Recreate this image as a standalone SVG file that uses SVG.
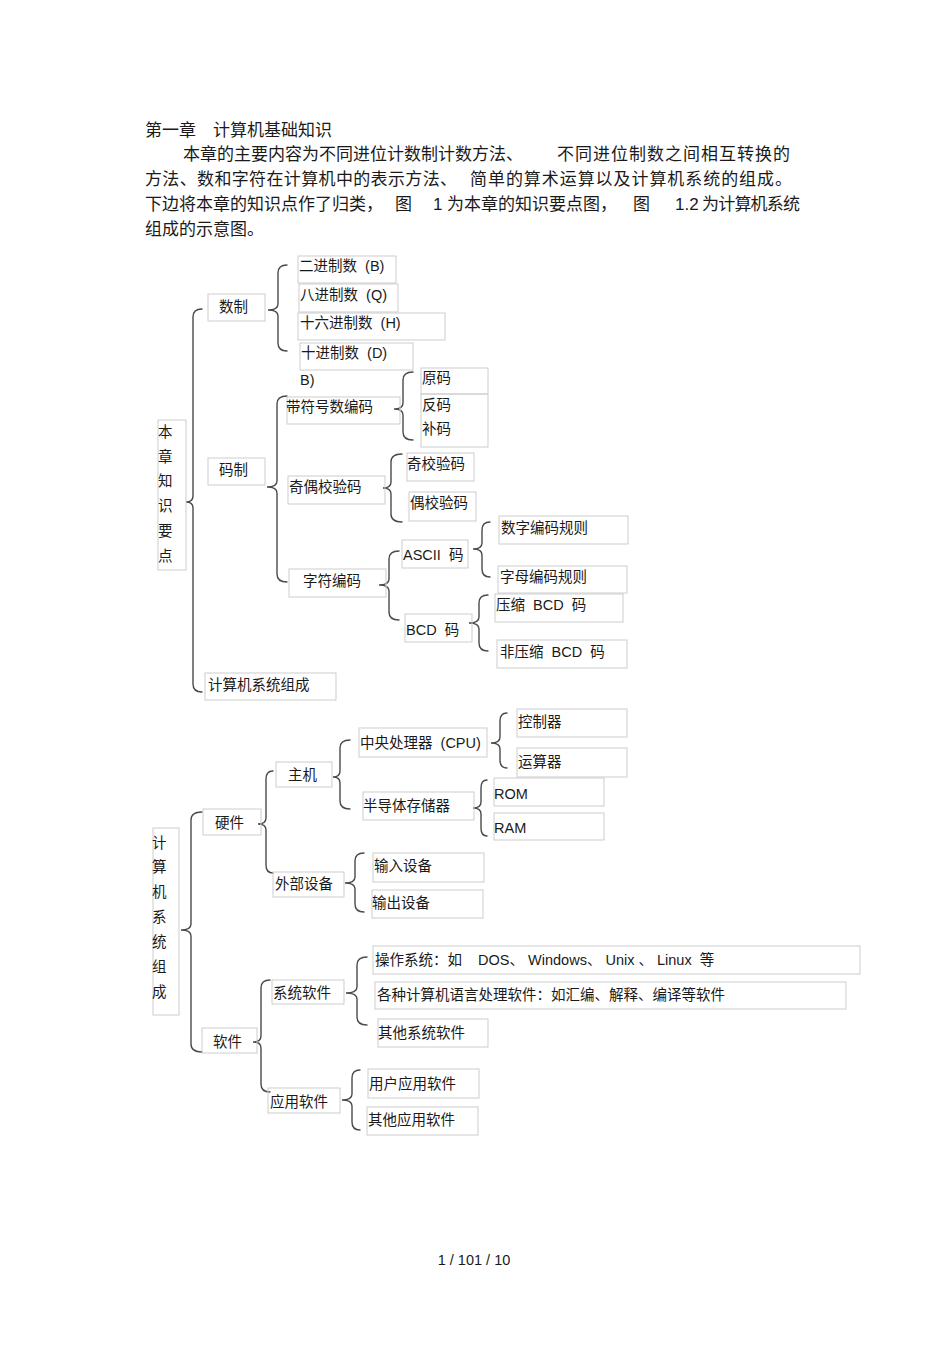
<svg xmlns="http://www.w3.org/2000/svg" width="950" height="1345" viewBox="0 0 950 1345" xml:space="preserve">
<style>
text{font-family:"Liberation Sans","Noto Sans CJK SC",sans-serif;fill:#1a1a1a;white-space:pre;dominant-baseline:central}
.p{font-size:17px}
.t{font-size:14.5px}
.b{fill:none;stroke:#cdcdcd;stroke-width:1}
.br{fill:none;stroke:#4a4a4a;stroke-width:1.4;stroke-linecap:round}
.pg{font-size:14.5px}
</style>
<rect width="950" height="1345" fill="#fff"/>
<g id="intro">
<text class="p" x="145" y="130">第一章</text>
<text class="p" x="213" y="130">计算机基础知识</text>
<text class="p" x="183" y="154" textLength="340" lengthAdjust="spacing">本章的主要内容为不同进位计数制计数方法、</text>
<text class="p" x="557" y="154" textLength="233" lengthAdjust="spacing">不同进位制数之间相互转换的</text>
<text class="p" x="145" y="179" textLength="312" lengthAdjust="spacing">方法、数和字符在计算机中的表示方法、</text>
<text class="p" x="470" y="179" textLength="322" lengthAdjust="spacing">简单的算术运算以及计算机系统的组成。</text>
<text class="p" x="145" y="204">下边将本章的知识点作了归类，</text>
<text class="p" x="395" y="204">图</text>
<text class="p" x="433" y="204">1</text>
<text class="p" x="447" y="204">为本章的知识要点图，</text>
<text class="p" x="633" y="204">图</text>
<text class="p" x="675" y="204">1.2</text>
<text class="p" x="702" y="204" textLength="98" lengthAdjust="spacing">为计算机系统</text>
<text class="p" x="145" y="229">组成的示意图。</text>
</g>
<g id="connectors">
<path class="br" d="M202,309 Q193,309 193,317 L193,496 Q193,502 186,502 Q193,502 193,508 L193,684 Q193,692 202,692"/>
<path class="br" d="M287,265 Q278,265 278,273 L278,304 Q278,310 268,310 Q278,310 278,316 L278,343 Q278,351 287,351"/>
<path class="br" d="M287,396 Q277,396 277,404 L277,481 Q277,487 267,487 Q277,487 277,493 L277,574 Q277,582 287,582"/>
<path class="br" d="M413,372 Q403,372 403,380 L403,403 Q403,409 394,409 Q403,409 403,415 L403,432 Q403,440 413,440"/>
<path class="br" d="M402,454 Q391,454 391,462 L391,482 Q391,488 383,488 Q391,488 391,494 L391,514 Q391,522 402,522"/>
<path class="br" d="M399,551 Q389,551 389,559 L389,579 Q389,585 379,585 Q389,585 389,591 L389,612 Q389,620 399,620"/>
<path class="br" d="M490,522 Q482,522 482,530 L482,543 Q482,549 473,549 Q482,549 482,555 L482,569 Q482,577 490,577"/>
<path class="br" d="M488,595 Q479,595 479,603 L479,617 Q479,623 469,623 Q479,623 479,629 L479,643 Q479,651 488,651"/>
<path class="br" d="M202,812 Q191,812 191,820 L191,924 Q191,930 181,930 Q191,930 191,936 L191,1044 Q191,1052 202,1052"/>
<path class="br" d="M273,771 Q266,771 266,779 L266,818 Q266,824 258,824 Q266,824 266,830 L266,865 Q266,873 273,873"/>
<path class="br" d="M350,740 Q340,740 340,748 L340,771 Q340,777 333,777 Q340,777 340,783 L340,801 Q340,809 350,809"/>
<path class="br" d="M507,713 Q500,713 500,721 L500,737 Q500,743 491,743 Q500,743 500,749 L500,760 Q500,768 507,768"/>
<path class="br" d="M487,780 Q481,780 481,788 L481,802 Q481,808 473,808 Q481,808 481,814 L481,828 Q481,836 487,836"/>
<path class="br" d="M364,853 Q355,853 355,861 L355,877 Q355,883 345,883 Q355,883 355,889 L355,904 Q355,912 364,912"/>
<path class="br" d="M270,980 Q261,980 261,988 L261,1036 Q261,1042 253,1042 Q261,1042 261,1048 L261,1084 Q261,1092 270,1092"/>
<path class="br" d="M367,957 Q357,957 357,965 L357,987 Q357,993 346,993 Q357,993 357,999 L357,1017 Q357,1025 367,1025"/>
<path class="br" d="M360,1070 Q352,1070 352,1078 L352,1094 Q352,1100 342,1100 Q352,1100 352,1106 L352,1122 Q352,1130 360,1130"/>
</g>
<g id="n-root1">
<rect class="b" x="158" y="420" width="28" height="150"/>
<text class="t" x="158" y="432">本</text>
<text class="t" x="158" y="457">章</text>
<text class="t" x="158" y="481">知</text>
<text class="t" x="158" y="506">识</text>
<text class="t" x="158" y="531">要</text>
<text class="t" x="158" y="556">点</text>
</g>
<g id="n-shuzhi"><rect class="b" x="208" y="294" width="57" height="27"/><text class="t" x="219" y="307">数制</text></g>
<g id="n-bin"><rect class="b" x="298" y="256" width="98" height="27"/><text class="t" x="299" y="266">二进制数  (B)</text></g>
<g id="n-oct"><rect class="b" x="299" y="284" width="99" height="28"/><text class="t" x="300" y="295">八进制数  (Q)</text></g>
<g id="n-hex"><rect class="b" x="298" y="313" width="147" height="27"/><text class="t" x="300" y="323">十六进制数  (H)</text></g>
<g id="n-dec"><rect class="b" x="300" y="343" width="113" height="27"/><text class="t" x="301" y="353">十进制数  (D)</text></g>
<g id="n-b"><text class="t" x="300" y="380">B)</text></g>
<g id="n-mazhi"><rect class="b" x="208" y="458" width="57" height="27"/><text class="t" x="219" y="470">码制</text></g>
<g id="n-signed"><rect class="b" x="287" y="397" width="113" height="27"/><text class="t" x="286" y="407">带符号数编码</text></g>
<g id="n-yuan"><rect class="b" x="421" y="368" width="67" height="26"/><text class="t" x="422" y="378">原码</text></g>
<g id="n-fan"><rect class="b" x="421" y="394" width="67" height="53"/><text class="t" x="422" y="405">反码</text><text class="t" x="422" y="429">补码</text></g>
<g id="n-parity"><rect class="b" x="288" y="476" width="97" height="28"/><text class="t" x="289" y="487">奇偶校验码</text></g>
<g id="n-odd"><rect class="b" x="407" y="453" width="67" height="28"/><text class="t" x="407" y="464">奇校验码</text></g>
<g id="n-even"><rect class="b" x="409" y="492" width="67" height="29"/><text class="t" x="410" y="503">偶校验码</text></g>
<g id="n-char"><rect class="b" x="289" y="569" width="97" height="28"/><text class="t" x="303" y="581">字符编码</text></g>
<g id="n-ascii"><rect class="b" x="402" y="540" width="66" height="28"/><text class="t" x="403" y="555">ASCII  码</text></g>
<g id="n-num"><rect class="b" x="499" y="516" width="129" height="28"/><text class="t" x="501" y="528">数字编码规则</text></g>
<g id="n-alpha"><rect class="b" x="498" y="566" width="129" height="27"/><text class="t" x="500" y="577">字母编码规则</text></g>
<g id="n-bcd"><rect class="b" x="405" y="614" width="67" height="28"/><text class="t" x="406" y="630">BCD  码</text></g>
<g id="n-packed"><rect class="b" x="495" y="594" width="128" height="28"/><text class="t" x="496" y="605">压缩  BCD  码</text></g>
<g id="n-unpacked"><rect class="b" x="497" y="640" width="130" height="28"/><text class="t" x="500" y="652">非压缩  BCD  码</text></g>
<g id="n-sys"><rect class="b" x="205" y="673" width="131" height="27"/><text class="t" x="208" y="685">计算机系统组成</text></g>
<g id="n-root2">
<rect class="b" x="153" y="828" width="26" height="187"/>
<text class="t" x="152" y="843">计</text>
<text class="t" x="152" y="867">算</text>
<text class="t" x="152" y="892">机</text>
<text class="t" x="152" y="917">系</text>
<text class="t" x="152" y="942">统</text>
<text class="t" x="152" y="967">组</text>
<text class="t" x="152" y="992">成</text>
</g>
<g id="n-hw"><rect class="b" x="203" y="809" width="58" height="26"/><text class="t" x="215" y="823">硬件</text></g>
<g id="n-host"><rect class="b" x="276" y="762" width="56" height="25"/><text class="t" x="288" y="775">主机</text></g>
<g id="n-cpu"><rect class="b" x="359" y="728" width="128" height="29"/><text class="t" x="360" y="743">中央处理器  (CPU)</text></g>
<g id="n-ctrl"><rect class="b" x="517" y="709" width="110" height="28"/><text class="t" x="518" y="722">控制器</text></g>
<g id="n-alu"><rect class="b" x="517" y="748" width="110" height="29"/><text class="t" x="518" y="762">运算器</text></g>
<g id="n-mem"><rect class="b" x="363" y="792" width="111" height="28"/><text class="t" x="363" y="806">半导体存储器</text></g>
<g id="n-rom"><rect class="b" x="494" y="778" width="110" height="28"/><text class="t" x="494" y="794">ROM</text></g>
<g id="n-ram"><rect class="b" x="494" y="813" width="110" height="27"/><text class="t" x="494" y="828">RAM</text></g>
<g id="n-ext"><rect class="b" x="273" y="872" width="71" height="25"/><text class="t" x="275" y="884">外部设备</text></g>
<g id="n-in"><rect class="b" x="373" y="853" width="111" height="29"/><text class="t" x="374" y="866">输入设备</text></g>
<g id="n-out"><rect class="b" x="372" y="890" width="111" height="28"/><text class="t" x="372" y="903">输出设备</text></g>
<g id="n-sw"><rect class="b" x="202" y="1028" width="55" height="25"/><text class="t" x="213" y="1042">软件</text></g>
<g id="n-syssw"><rect class="b" x="272" y="980" width="72" height="24"/><text class="t" x="273" y="993">系统软件</text></g>
<g id="n-os"><rect class="b" x="373" y="946" width="487" height="28"/><text class="t" x="375" y="960">操作系统：如    DOS、 Windows、 Unix 、 Linux  等</text></g>
<g id="n-lang"><rect class="b" x="375" y="982" width="471" height="27"/><text class="t" x="377" y="995">各种计算机语言处理软件：如汇编、解释、编译等软件</text></g>
<g id="n-othersys"><rect class="b" x="378" y="1019" width="110" height="28"/><text class="t" x="378" y="1033">其他系统软件</text></g>
<g id="n-app"><rect class="b" x="268" y="1088" width="72" height="25"/><text class="t" x="270" y="1102">应用软件</text></g>
<g id="n-user"><rect class="b" x="368" y="1069" width="111" height="29"/><text class="t" x="369" y="1084">用户应用软件</text></g>
<g id="n-otherapp"><rect class="b" x="367" y="1107" width="111" height="28"/><text class="t" x="368" y="1120">其他应用软件</text></g>
<g id="footer"><text class="pg" x="474" y="1260" text-anchor="middle">1 / 101 / 10</text></g>
</svg>
